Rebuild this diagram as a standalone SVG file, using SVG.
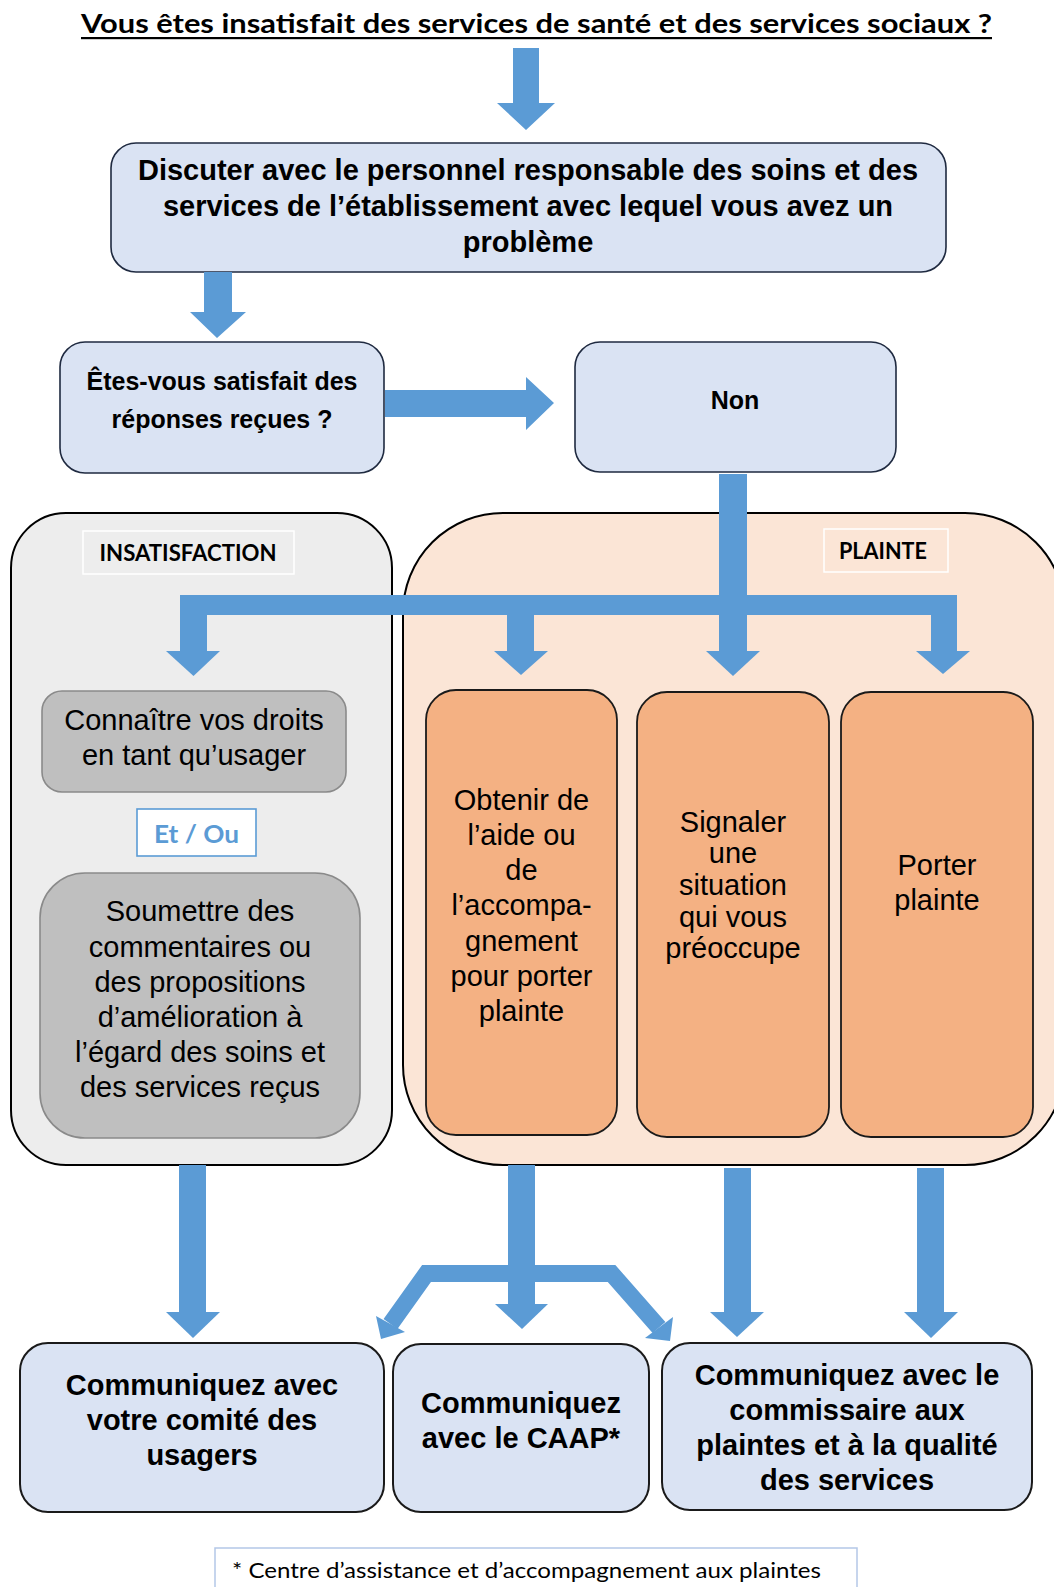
<svg xmlns="http://www.w3.org/2000/svg" width="1054" height="1587" viewBox="0 0 1054 1587">
<style>
.arrow{fill:#5b9bd5;}
.blue{fill:#dae3f3;stroke:#1f2a40;stroke-width:1.6;}
.gray{fill:#bfbfbf;stroke:#8a8a8a;stroke-width:1.6;}
.orange{fill:#f4b183;stroke:#1a1a1a;stroke-width:1.8;}
.label{fill:none;stroke:#ffffff;stroke-width:1.5;}
.b{font-family:"Liberation Sans",Arial,sans-serif;font-weight:bold;fill:#000;text-anchor:middle;}
.r{font-family:"Liberation Sans",Arial,sans-serif;fill:#000;text-anchor:middle;}
.c{font-family:Lato,"Open Sans",sans-serif;fill:#000;}
</style>
<rect width="1054" height="1587" fill="#ffffff"/>

<g id="title">
<text class="c" x="536.5" y="33" font-size="26" font-weight="bold" text-anchor="middle" textLength="911" lengthAdjust="spacingAndGlyphs">Vous êtes insatisfait des services de santé et des services sociaux ?</text>
<rect x="81" y="37" width="911" height="2.2" fill="#000"/>
</g>

<g id="container-insatisfaction">
<rect x="11" y="513" width="381" height="652" rx="55" ry="55" fill="#ededed" stroke="#000" stroke-width="2"/>
<rect class="label" x="83" y="531" width="211" height="43"/>
<text class="c" x="188" y="561" font-size="22" font-weight="bold" text-anchor="middle" textLength="177" lengthAdjust="spacingAndGlyphs">INSATISFACTION</text>
</g>

<g id="container-plainte">
<rect x="403" y="513" width="662" height="652" rx="100" ry="100" fill="#fbe5d6" stroke="#000" stroke-width="2"/>
<rect class="label" x="824" y="529" width="124" height="43"/>
<text class="c" x="883" y="559" font-size="22" font-weight="bold" text-anchor="middle" textLength="88" lengthAdjust="spacingAndGlyphs">PLAINTE</text>
</g>

<g id="node-discuter">
<rect class="blue" x="111" y="143" width="835" height="129" rx="25"/>
<text class="b" font-size="29"><tspan x="528" y="180">Discuter avec le personnel responsable des soins et des</tspan><tspan x="528" y="216">services de l’établissement avec lequel vous avez un</tspan><tspan x="528" y="252">problème</tspan></text>
</g>

<g id="node-satisfait">
<rect class="blue" x="60" y="342" width="324" height="131" rx="25"/>
<text class="b" font-size="25"><tspan x="222" y="390">Êtes-vous satisfait des</tspan><tspan x="222" y="428">réponses reçues ?</tspan></text>
</g>

<g id="node-non">
<rect class="blue" x="575" y="342" width="321" height="130" rx="25"/>
<text class="b" font-size="25" x="735" y="409">Non</text>
</g>

<g id="node-droits">
<rect class="gray" x="42" y="691" width="304" height="101" rx="20"/>
<text class="r" font-size="29"><tspan x="194" y="730">Connaître vos droits</tspan><tspan x="194" y="765">en tant qu’usager</tspan></text>
</g>

<g id="node-etou">
<rect x="137" y="809" width="119" height="47" fill="#ffffff" stroke="#5b9bd5" stroke-width="1.6"/>
<text class="c" x="196.5" y="843" font-size="24" font-weight="bold" text-anchor="middle" style="fill:#5b9bd5" textLength="85" lengthAdjust="spacingAndGlyphs">Et / Ou</text>
</g>

<g id="node-soumettre">
<rect class="gray" x="40" y="873" width="320" height="265" rx="45"/>
<text class="r" font-size="29"><tspan x="200" y="921">Soumettre des</tspan><tspan x="200" y="957">commentaires ou</tspan><tspan x="200" y="992">des propositions</tspan><tspan x="200" y="1027">d’amélioration à</tspan><tspan x="200" y="1062">l’égard des soins et</tspan><tspan x="200" y="1097">des services reçus</tspan></text>
</g>

<g id="node-aide">
<rect class="orange" x="426" y="690" width="191" height="445" rx="30"/>
<text class="r" font-size="29"><tspan x="521.5" y="810">Obtenir de</tspan><tspan x="521.5" y="845">l’aide ou</tspan><tspan x="521.5" y="880">de</tspan><tspan x="521.5" y="915">l’accompa-</tspan><tspan x="521.5" y="951">gnement</tspan><tspan x="521.5" y="986">pour porter</tspan><tspan x="521.5" y="1021">plainte</tspan></text>
</g>

<g id="node-signaler">
<rect class="orange" x="637" y="692" width="192" height="445" rx="30"/>
<text class="r" font-size="29"><tspan x="733" y="832">Signaler</tspan><tspan x="733" y="863">une</tspan><tspan x="733" y="895">situation</tspan><tspan x="733" y="927">qui vous</tspan><tspan x="733" y="958">préoccupe</tspan></text>
</g>

<g id="node-porter">
<rect class="orange" x="841" y="692" width="192" height="445" rx="30"/>
<text class="r" font-size="29"><tspan x="937" y="875">Porter</tspan><tspan x="937" y="910">plainte</tspan></text>
</g>

<g id="node-comite">
<rect class="blue" x="20" y="1343" width="364" height="169" rx="28" style="stroke:#1a1a1a;stroke-width:2"/>
<text class="b" font-size="29"><tspan x="202" y="1395">Communiquez avec</tspan><tspan x="202" y="1430">votre comité des</tspan><tspan x="202" y="1465">usagers</tspan></text>
</g>

<g id="node-caap">
<rect class="blue" x="393" y="1344" width="256" height="168" rx="28" style="stroke:#1a1a1a;stroke-width:2"/>
<text class="b" font-size="29"><tspan x="521" y="1413">Communiquez</tspan><tspan x="521" y="1448">avec le CAAP*</tspan></text>
</g>

<g id="node-commissaire">
<rect class="blue" x="662" y="1343" width="370" height="167" rx="28" style="stroke:#1a1a1a;stroke-width:2"/>
<text class="b" font-size="29"><tspan x="847" y="1385">Communiquez avec le</tspan><tspan x="847" y="1420">commissaire aux</tspan><tspan x="847" y="1455">plaintes et à la qualité</tspan><tspan x="847" y="1490">des services</tspan></text>
</g>

<g id="footnote">
<rect x="215" y="1548" width="642" height="50" fill="#ffffff" stroke="#b4c7e7" stroke-width="1.5"/>
<text class="c" x="232" y="1578" font-size="21" textLength="589" lengthAdjust="spacingAndGlyphs">* Centre d’assistance et d’accompagnement aux plaintes</text>
</g>

<g id="connectors">
<polygon class="arrow" points="513,48 539,48 539,103 555,103 526,130 497,103 513,103"/>
<polygon class="arrow" points="204,272 232,272 232,312 246,312 217,338 190,312 204,312"/>
<polygon class="arrow" points="385,390 526,390 526,377 554,403 526,430 526,417 385,417"/>
<rect class="arrow" x="719" y="474" width="28" height="178"/>
<polygon class="arrow" points="706,651 760,651 733,676"/>
<rect class="arrow" x="180" y="595" width="777" height="20"/>
<rect class="arrow" x="180" y="595" width="27" height="57"/>
<polygon class="arrow" points="166,651 220,651 193.5,676"/>
<rect class="arrow" x="507" y="595" width="27" height="57"/>
<polygon class="arrow" points="494,651 548,651 521,675"/>
<rect class="arrow" x="931" y="595" width="26" height="57"/>
<polygon class="arrow" points="916,651 970,651 943,674"/>

<rect class="arrow" x="179" y="1165" width="27" height="148"/>
<polygon class="arrow" points="166,1312 220,1312 193,1338"/>
<rect class="arrow" x="508" y="1165" width="27" height="140"/>
<polygon class="arrow" points="495,1304 548,1304 522,1329"/>
<polyline points="390.5,1324 426.5,1273.5 611.5,1273.5 659,1327.5" fill="none" stroke="#5b9bd5" stroke-width="17" stroke-linejoin="miter"/>
<polygon class="arrow" points="376,1316 405,1332 381,1339"/>
<polygon class="arrow" points="673,1317 645,1338 670,1341"/>
<rect class="arrow" x="724" y="1168" width="27" height="145"/>
<polygon class="arrow" points="710,1312 764,1312 737,1337"/>
<rect class="arrow" x="917" y="1168" width="27" height="145"/>
<polygon class="arrow" points="904,1312 958,1312 931,1338"/>
</g>
</svg>
